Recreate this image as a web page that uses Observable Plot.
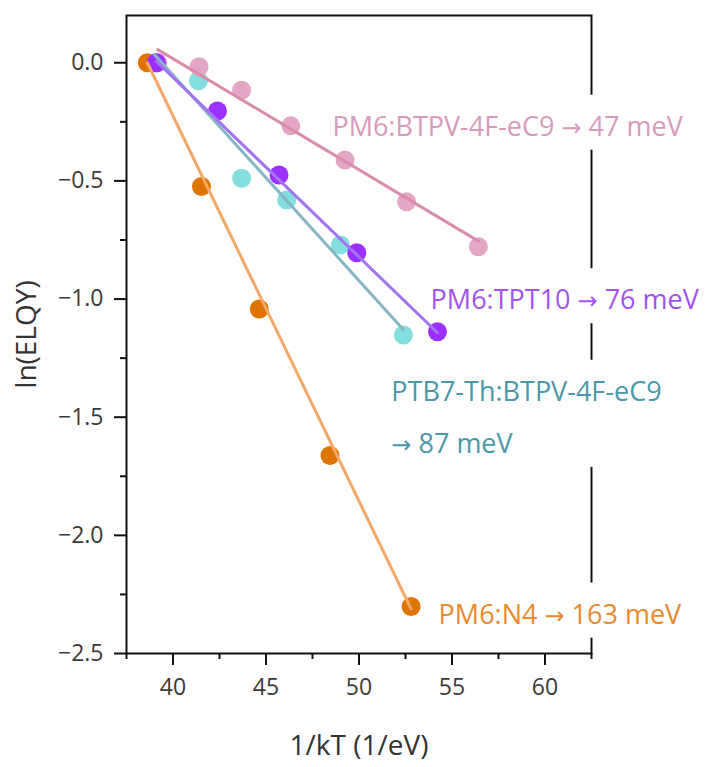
<!DOCTYPE html>
<html>
<head>
<meta charset="utf-8">
<script src="https://cdn.jsdelivr.net/npm/d3@7"></script>
<script src="https://cdn.jsdelivr.net/npm/@observablehq/plot@0.6"></script>
<style>
  html, body { margin: 0; padding: 0; background: #fff; }
</style>
</head>
<body>
<div id="chart"></div>
<script>
// ---- data ----
const seriesNames = ["PM6:BTPV-4F-eC9", "PM6:TPT10", "PTB7-Th:BTPV-4F-eC9", "PM6:N4"];

const pinkX = [39.18, 41.40, 43.69, 46.33, 49.25, 52.56, 56.42];
const pinkY = [0.0, -0.017, -0.116, -0.267, -0.412, -0.588, -0.779];

const purpleX = [39.11, 42.39, 45.70, 49.88, 54.22];
const purpleY = [0.0, -0.204, -0.475, -0.804, -1.138];

const cyanX = [39.00, 41.37, 43.69, 46.11, 49.00, 52.39];
const cyanY = [0.0, -0.076, -0.489, -0.581, -0.771, -1.152];

const orangeX = [38.62, 41.53, 44.64, 48.44, 52.80];
const orangeY = [0.0, -0.524, -1.042, -1.662, -2.301];

// Arrhenius fits: slope = -E (eV), intercept
const fitSlope = [-0.047, -0.076, -0.087, -0.163];
const fitIntercept = [1.897, 2.978, 3.428, 6.295];

const xMajorTicks = [40, 45, 50, 55, 60];
const xMinorTicks = [37.5, 42.5, 47.5, 52.5, 57.5, 62.5];
const yMajorTicks = [0, -0.5, -1.0, -1.5, -2.0, -2.5];
const yMinorTicks = [-0.25, -0.75, -1.25, -1.75, -2.25];

const labelText = ["PM6:BTPV-4F-eC9 → 47 meV", "PM6:TPT10 → 76 meV", "PTB7-Th:BTPV-4F-eC9\n→ 87 meV", "PM6:N4 → 163 meV"];
const labelX = [48.57, 53.85, 51.74, 54.28];
const labelY = [-0.238, -0.9725, -1.47, -2.303];

// ---- styles ----
const pointColor = ["#e3a7c4", "#9b30ff", "#84dede", "#e07400"];
const lineColor  = ["#d98cab", "#a274f4", "#86b6c6", "#f2a866"];
const textColor  = ["#d99bbb", "#a354f0", "#4a98aa", "#e88a2e"];

// ---- tables built from arrays ----
const xs = [pinkX, purpleX, cyanX, orangeX];
const ys = [pinkY, purpleY, cyanY, orangeY];
const rows = seriesNames.flatMap((name, k) => xs[k].map((x, i) => ({series: name, k, x, y: ys[k][i]})));
const bySeries = k => rows.filter(d => d.k === k);
const fitRows = k => d3.extent(xs[k]).map(x => ({x, y: fitIntercept[k] + fitSlope[k] * x}));

const dotOrder = [2, 0, 3, 1];   // cyan, pink, orange, purple on top
const lineOrder = [2, 0, 3, 1];

const font = "'Open Sans', 'Noto Sans', sans-serif";

const plot = Plot.plot({
  width: 708,
  height: 767,
  marginLeft: 126,
  marginRight: 117,
  marginTop: 15,
  marginBottom: 114,
  x: {domain: [37.5, 62.5]},
  y: {domain: [-2.5, 0.2]},
  style: {fontFamily: font, background: "#fff", overflow: "visible"},
  marks: [
    Plot.frame({stroke: "#111", strokeWidth: 2, ariaLabel: "frame"}),
    ...dotOrder.map(k => Plot.dot(bySeries(k), {x: "x", y: "y", r: 9.5, fill: pointColor[k]})),
    ...lineOrder.map(k => Plot.line(fitRows(k), {x: "x", y: "y", stroke: lineColor[k], strokeWidth: 3})),
    Plot.axisX({ticks: xMajorTicks, tickSize: 12, tickPadding: 13, stroke: "#111", strokeWidth: 2, fill: "#3a3a3a",
      fontSize: 23, fontFamily: font, tickFormat: d3.format("d"),
      label: "1/kT (1/eV)", labelAnchor: "center", labelOffset: 101, labelArrow: "none"}),
    Plot.axisX({ticks: xMinorTicks, tickSize: 6, stroke: "#111", strokeWidth: 2, tickFormat: () => "", label: null}),
    Plot.axisY({ticks: yMajorTicks, tickSize: 12, tickPadding: 11, stroke: "#111", strokeWidth: 2, fill: "#3a3a3a",
      fontSize: 23, fontFamily: font, tickFormat: d3.format(".1f"),
      label: "ln(ELQY)", labelAnchor: "center", labelOffset: 110, labelArrow: "none"}),
    Plot.axisY({ticks: yMinorTicks, tickSize: 6, stroke: "#111", strokeWidth: 2, tickFormat: () => "", label: null}),
    ...labelText.map((t, i) => Plot.text([{t, x: labelX[i], y: labelY[i]}], {
      x: "x", y: "y", text: "t", fill: textColor[i], fontSize: 27, fontFamily: font,
      textAnchor: "start", lineAnchor: "middle", lineHeight: 1.93
    }))
  ]
});

// axis-title fonts
plot.querySelectorAll("text").forEach(t => {
  const s = t.textContent;
  if (s === "1/kT (1/eV)" || s === "ln(ELQY)") { t.style.fontSize = "28px"; t.setAttribute("fill", "#333"); }
});

document.getElementById("chart").append(plot);

const SVGNS = "http://www.w3.org/2000/svg";
const labelSet = new Set(labelText.map(t => t.replace(/\n/g, "")));
const labelEls = [...plot.querySelectorAll("text")].filter(t => labelSet.has(t.textContent));

// render the arrow with a font that has a full-width arrow glyph
labelEls.forEach(t => {
  const walker = document.createTreeWalker(t, NodeFilter.SHOW_TEXT);
  const nodes = [];
  while (walker.nextNode()) nodes.push(walker.currentNode);
  nodes.forEach(n => {
    const i = n.data.indexOf("→");
    if (i < 0) return;
    const rest = n.splitText(i);
    rest.splitText(1);
    const ts = document.createElementNS(SVGNS, "tspan");
    ts.setAttribute("font-family", "'DejaVu Sans', sans-serif");
    ts.setAttribute("font-size", "24");
    rest.parentNode.insertBefore(ts, rest);
    ts.appendChild(rest);
  });
});

// white boxes behind the series labels: they interrupt the frame (drawn just above the frame)
const frameEl = plot.querySelector('[aria-label="frame"]');
const boxLayer = document.createElementNS(SVGNS, "g");
if (frameEl && frameEl.parentNode) frameEl.parentNode.insertBefore(boxLayer, frameEl.nextSibling);
labelEls.forEach(t => {
  const b = t.getBBox();
  const r = document.createElementNS(SVGNS, "rect");
  r.setAttribute("x", b.x - 8);
  r.setAttribute("y", b.y - 12);
  r.setAttribute("width", b.width + 16);
  r.setAttribute("height", b.height + 18);
  r.setAttribute("fill", "#fff");
  r.setAttribute("stroke", "none");
  // compose transforms of the text and its group
  const parts = [t.parentNode.getAttribute("transform"), t.getAttribute("transform")].filter(Boolean);
  if (parts.length) r.setAttribute("transform", parts.join(" "));
  if (frameEl && frameEl.parentNode) boxLayer.appendChild(r);
  else t.parentNode.insertBefore(r, t);
});
</script>
</body>
</html>
